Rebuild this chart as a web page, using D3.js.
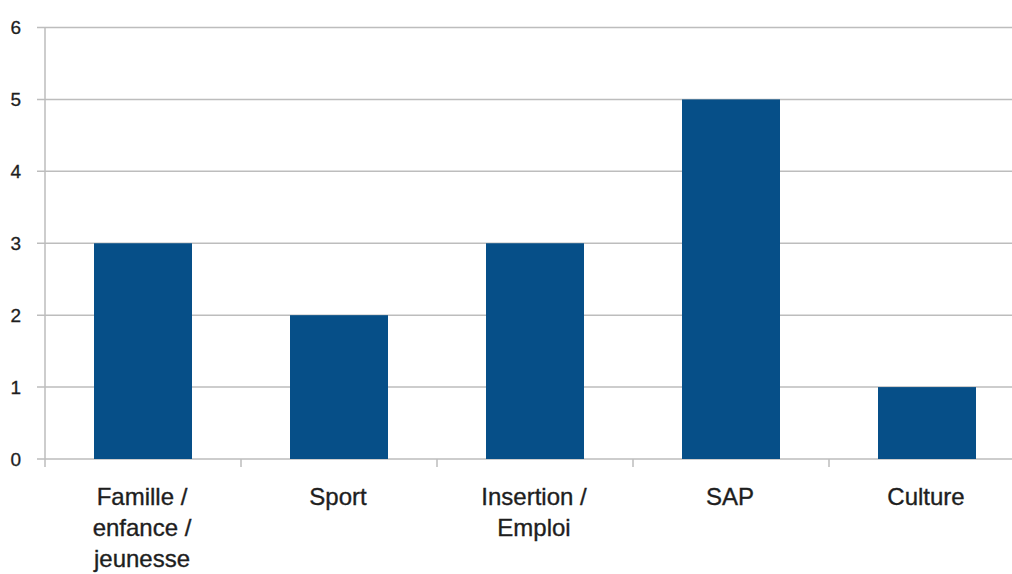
<!DOCTYPE html>
<html><head><meta charset="utf-8">
<script src="https://cdn.jsdelivr.net/npm/d3@7"></script>
<style>body{margin:0;background:#fff}svg{display:block}</style>
</head><body>
<svg id="c" width="1012" height="574"></svg>
<script>
const categories = [["Famille /","enfance /","jeunesse"],["Sport"],["Insertion /","Emploi"],["SAP"],["Culture"]];
const values = [3,2,3,5,1];
const yTicks = [0,1,2,3,4,5,6];

const svg = d3.select("#c");
const x0 = 45, x1 = 1025, yTop = 27.5, yBot = 459;
const keys = categories.map((c,i)=>i);
const x = d3.scaleBand().domain(keys).range([x0,x1]).paddingInner(0.5).paddingOuter(0.25);
const y = d3.scaleLinear().domain([0,6]).range([yBot,yTop]);
const grid = "#bdbdbd";

// gridlines
svg.append("g").selectAll("line").data(yTicks).join("line")
  .attr("x1",37).attr("x2",1012).attr("y1",d=>y(d)).attr("y2",d=>y(d))
  .attr("stroke",grid).attr("stroke-width",1.5);
// y axis line
svg.append("line").attr("x1",x0).attr("x2",x0).attr("y1",yTop).attr("y2",467)
  .attr("stroke",grid).attr("stroke-width",1.5);
// category ticks
const step = x.step();
svg.append("g").selectAll("line").data(d3.range(1,5)).join("line")
  .attr("x1",d=>x0+d*step).attr("x2",d=>x0+d*step).attr("y1",yBot).attr("y2",467)
  .attr("stroke",grid).attr("stroke-width",1.5);
// y labels
svg.append("g").selectAll("text").data(yTicks).join("text")
  .attr("x",21).attr("y",d=>y(d)).attr("dy","0.36em").attr("text-anchor","end")
  .attr("font-family","Liberation Sans, Arial, sans-serif").attr("font-size",19)
  .attr("fill","#1e1e1e").attr("stroke","#1e1e1e").attr("stroke-width",0.3).text(d=>d);
// bars
svg.append("g").selectAll("rect").data(values).join("rect")
  .attr("x",(d,i)=>x(i)).attr("width",x.bandwidth())
  .attr("y",d=>y(d)).attr("height",d=>y(0)-y(d)).attr("fill","#064f88");
// x labels
const lab = svg.append("g").selectAll("text").data(categories).join("text")
  .attr("x",(d,i)=>x(i)+x.bandwidth()/2-1).attr("y",505).attr("text-anchor","middle")
  .attr("font-family","Liberation Sans, Arial, sans-serif").attr("font-size",24)
  .attr("fill","#1e1e1e").attr("stroke","#1e1e1e").attr("stroke-width",0.35);
lab.each(function(d){
  const t = d3.select(this);
  d.forEach((s,j)=>t.append("tspan").attr("x",t.attr("x")).attr("dy",j?31:0).text(s));
});
</script>
</body></html>
